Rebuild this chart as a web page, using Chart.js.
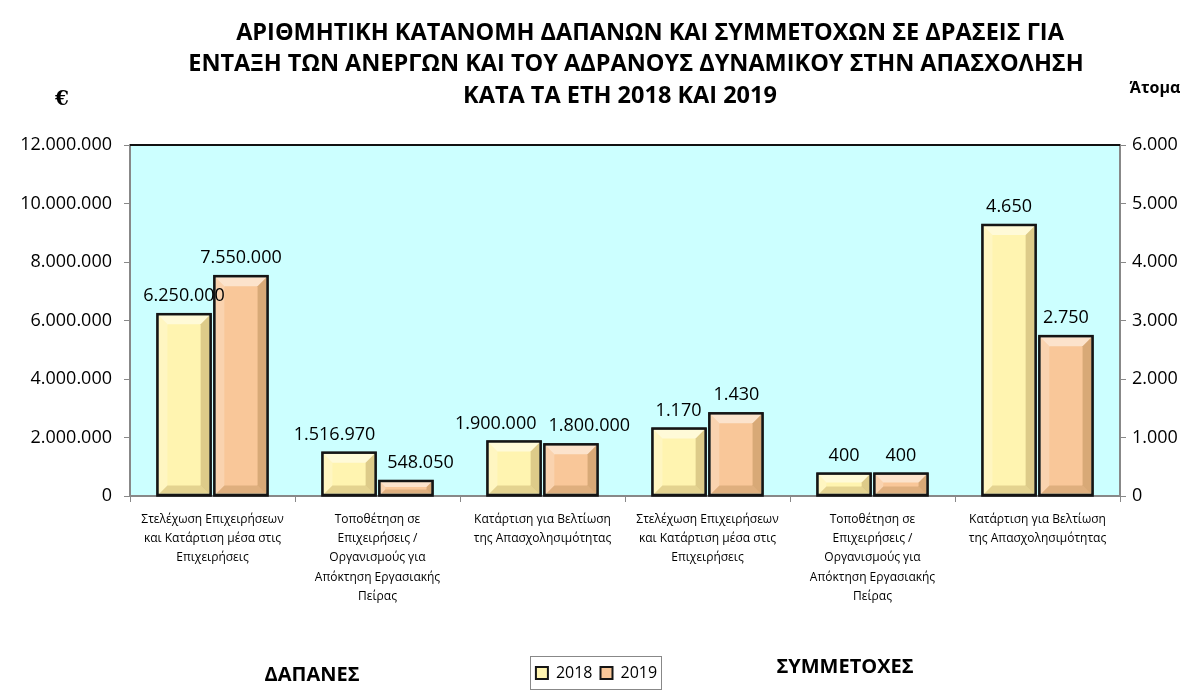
<!DOCTYPE html>
<html>
<head>
<meta charset="utf-8">
<script src="https://cdn.jsdelivr.net/npm/chart.js@4.4.1/dist/chart.umd.min.js"></script>
<style>
html,body{margin:0;padding:0;background:#fff;}
#wrap{width:1193px;height:695px;position:relative;}
</style>
</head>
<body>
<div id="wrap"><canvas id="c" width="1193" height="695"></canvas></div>
<script>
const categories = [
  ['Στελέχωση Επιχειρήσεων', 'και Κατάρτιση μέσα στις', 'Επιχειρήσεις'],
  ['Τοποθέτηση σε', 'Επιχειρήσεις /', 'Οργανισμούς για', 'Απόκτηση Εργασιακής', 'Πείρας'],
  ['Κατάρτιση για Βελτίωση', 'της Απασχολησιμότητας'],
  ['Στελέχωση Επιχειρήσεων', 'και Κατάρτιση μέσα στις', 'Επιχειρήσεις'],
  ['Τοποθέτηση σε', 'Επιχειρήσεις /', 'Οργανισμούς για', 'Απόκτηση Εργασιακής', 'Πείρας'],
  ['Κατάρτιση για Βελτίωση', 'της Απασχολησιμότητας']
];
const spend2018 = [6250000, 1516970, 1900000, null, null, null];
const spend2019 = [7550000, 548050, 1800000, null, null, null];
const people2018 = [null, null, null, 1170, 400, 4650];
const people2019 = [null, null, null, 1430, 400, 2750];
const seriesLabels = ['2018', '2019'];
const titleLines = [
  'ΑΡΙΘΜΗΤΙΚΗ ΚΑΤΑΝΟΜΗ ΔΑΠΑΝΩΝ ΚΑΙ ΣΥΜΜΕΤΟΧΩΝ ΣΕ ΔΡΑΣΕΙΣ ΓΙΑ',
  'ΕΝΤΑΞΗ ΤΩΝ ΑΝΕΡΓΩΝ ΚΑΙ ΤΟΥ ΑΔΡΑΝΟΥΣ ΔΥΝΑΜΙΚΟΥ ΣΤΗΝ ΑΠΑΣΧΟΛΗΣΗ',
  'ΚΑΤΑ ΤΑ ΕΤΗ 2018 ΚΑΙ 2019'
];
const leftUnit = '€';
const rightUnit = 'Άτομα';
const groupLeft = 'ΔΑΠΑΝΕΣ';
const groupRight = 'ΣΥΜΜΕΤΟΧΕΣ';

const COL18 = '#FFF4B0';
const COL19 = '#F9C799';
const FONT = "'Open Sans', 'Noto Sans', sans-serif";

function fmt(v) {
  return String(Math.round(v)).replace(/\B(?=(\d{3})+(?!\d))/g, '.');
}

const bgPlugin = {
  id: 'bg',
  beforeDraw(chart) {
    const {ctx, chartArea: a} = chart;
    ctx.save();
    ctx.fillStyle = '#CCFFFF';
    ctx.fillRect(a.left, a.top, a.right - a.left, a.bottom - a.top);
    ctx.restore();
  },
  afterDraw(chart) {
    const {ctx, chartArea: a} = chart;
    ctx.save();
    ctx.strokeStyle = '#111';
    ctx.lineWidth = 2;
    ctx.beginPath();
    ctx.moveTo(a.left, a.top);
    ctx.lineTo(a.right, a.top);
    ctx.stroke();
    ctx.fillStyle = '#000';
    ctx.textAlign = 'center';
    ctx.textBaseline = 'middle';
    ctx.font = 'bold 23.5px ' + FONT;
    const ys = [33, 64, 96];
    const xs = [650, 636, 620];
    titleLines.forEach((t, i) => ctx.fillText(t, xs[i], ys[i]));
    ctx.font = 'bold 20px "DejaVu Serif", serif';
    ctx.fillText(leftUnit, 62, 100);
    ctx.font = 'bold 16px ' + FONT;
    ctx.fillText(rightUnit, 1155, 88);
    ctx.font = 'bold 20px ' + FONT;
    ctx.fillText(groupLeft, 312, 675);
    ctx.fillText(groupRight, 845, 667);
    const lg = chart.legend;
    if (lg && lg.legendHitBoxes && lg.legendHitBoxes.length) {
      let l = Infinity, r = -Infinity, t = Infinity, b = -Infinity;
      lg.legendHitBoxes.forEach(h => {
        l = Math.min(l, h.left); r = Math.max(r, h.left + h.width);
        t = Math.min(t, h.top); b = Math.max(b, h.top + h.height);
      });
      ctx.strokeStyle = '#888';
      ctx.lineWidth = 1;
      ctx.strokeRect(Math.round(l - 6) + 0.5, Math.round(t - 9) + 0.5, Math.round(r - l + 10), Math.round(b - t + 17));
    }
    ctx.restore();
  }
};

const bevelPlugin = {
  id: 'bevel',
  afterDatasetsDraw(chart) {
    const ctx = chart.ctx;
    ctx.save();
    const labels = [];
    chart.data.datasets.forEach((ds, di) => {
      const meta = chart.getDatasetMeta(di);
      meta.data.forEach((bar, i) => {
        const v = ds.data[i];
        if (v === null || v === undefined) return;
        const p = bar.getProps(['x', 'y', 'base', 'width'], true);
        const l = p.x - p.width / 2 + 2, r = p.x + p.width / 2 - 2;
        const t = p.y + 2, bt = p.base - 1;
        const b = Math.min(9, (bt - t) / 2.5);
        const poly = (pts, fill) => {
          ctx.beginPath();
          ctx.moveTo(pts[0][0], pts[0][1]);
          for (let k = 1; k < pts.length; k++) ctx.lineTo(pts[k][0], pts[k][1]);
          ctx.closePath();
          ctx.fillStyle = fill;
          ctx.fill();
        };
        poly([[l, t], [r, t], [r - b, t + b], [l + b, t + b]], 'rgba(255,255,255,0.5)');
        poly([[l, t], [l + b, t + b], [l + b, bt - b], [l, bt]], 'rgba(255,255,255,0.22)');
        poly([[r, t], [r - b, t + b], [r - b, bt - b], [r, bt]], 'rgba(120,80,20,0.25)');
        poly([[l, bt], [l + b, bt - b], [r - b, bt - b], [r, bt]], 'rgba(120,80,20,0.2)');
        ctx.strokeStyle = '#151515';
        ctx.lineWidth = 2.5;
        ctx.strokeRect(p.x - p.width / 2 + 1, p.y + 1, p.width - 2, p.base - p.y - 1);
        labels.push({cat: i, x: p.x, y: p.y, text: fmt(v)});
      });
    });
    ctx.fillStyle = '#000';
    ctx.font = '18px ' + FONT;
    ctx.textAlign = 'center';
    ctx.textBaseline = 'bottom';
    labels.forEach(lb => { lb.w = ctx.measureText(lb.text).width; lb.cx = lb.x; lb.by = lb.y - 8; });
    for (let a = 0; a < labels.length; a++) {
      for (let b = 0; b < labels.length; b++) {
        const A = labels[a], B = labels[b];
        if (A.cat !== B.cat || A.x >= B.x) continue;
        const need = (A.w + B.w) / 2 + 12;
        const dist = B.cx - A.cx;
        if (Math.abs(A.by - B.by) < 35 && dist < need) {
          const sh = (need - dist) / 2;
          A.cx -= sh; B.cx += sh;
        }
      }
    }
    labels.forEach(lb => ctx.fillText(lb.text, lb.cx, lb.by));
    ctx.restore();
  }
};

const barCommon = {
  borderColor: '#151515',
  borderWidth: 2,
  borderSkipped: false,
  skipNull: true,
  categoryPercentage: 0.69,
  barPercentage: 0.97
};

new Chart(document.getElementById('c'), {
  type: 'bar',
  data: {
    labels: categories,
    datasets: [
      Object.assign({label: seriesLabels[0], data: spend2018, backgroundColor: COL18, yAxisID: 'y'}, barCommon),
      Object.assign({label: seriesLabels[1], data: spend2019, backgroundColor: COL19, yAxisID: 'y'}, barCommon),
      Object.assign({label: seriesLabels[0], data: people2018, backgroundColor: COL18, yAxisID: 'y1'}, barCommon),
      Object.assign({label: seriesLabels[1], data: people2019, backgroundColor: COL19, yAxisID: 'y1'}, barCommon)
    ]
  },
  options: {
    responsive: false,
    animation: false,
    devicePixelRatio: 1,
    layout: {padding: {top: 145, bottom: 4, left: 0, right: 0}},
    plugins: {
      title: {display: false},
      tooltip: {enabled: false},
      legend: {
        display: true,
        position: 'bottom',
        labels: {
          filter: (item) => item.datasetIndex < 2,
          color: '#000',
          font: {family: FONT, size: 16},
          boxWidth: 12,
          boxHeight: 12,
          padding: 8
        }
      }
    },
    scales: {
      x: {
        offset: true,
        grid: {display: true, drawOnChartArea: false, drawTicks: true, tickLength: 6, color: '#888', offset: true},
        border: {display: true, color: '#888', width: 2},
        ticks: {color: '#000', font: {family: FONT, size: 12, lineHeight: 1.6}, maxRotation: 0, autoSkip: false, padding: 8},
        afterFit: (s) => { s.height = 161; }
      },
      y: {
        position: 'left',
        min: 0, max: 12000000,
        ticks: {stepSize: 2000000, color: '#000', font: {family: FONT, size: 18}, padding: 12, callback: (v) => fmt(v)},
        grid: {display: true, drawOnChartArea: false, drawTicks: true, tickLength: 6, color: '#888'},
        border: {display: true, color: '#888', width: 2},
        afterFit: (s) => { s.width = 130; }
      },
      y1: {
        position: 'right',
        min: 0, max: 6000,
        ticks: {stepSize: 1000, color: '#000', font: {family: FONT, size: 18}, padding: 6, callback: (v) => fmt(v)},
        grid: {display: true, drawOnChartArea: false, drawTicks: true, tickLength: 6, color: '#888'},
        border: {display: true, color: '#888', width: 2},
        afterFit: (s) => { s.width = 73; }
      }
    }
  },
  plugins: [bgPlugin, bevelPlugin]
});
</script>
</body>
</html>
